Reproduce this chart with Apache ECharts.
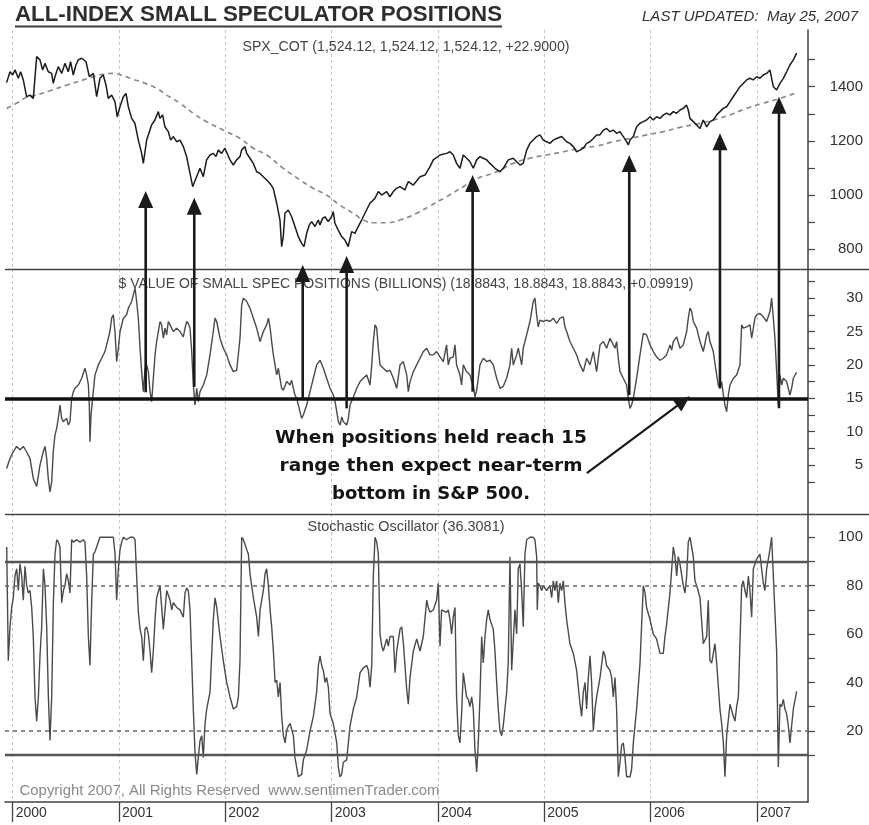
<!DOCTYPE html>
<html><head><meta charset="utf-8">
<script src="https://cdn.jsdelivr.net/npm/echarts@6/dist/echarts.min.js"></script>
<style>html,body{margin:0;padding:0;background:#fff}#c{width:869px;height:825px}</style>
</head><body><div id="c"></div>
<script>
// ---------- DATA (x = decimal year, y = value) ----------
const spx = [
[1999.943,1415],[1999.975,1455],[2000.000,1443],[2000.022,1462],[2000.053,1431],[2000.075,1455],[2000.100,1425],[2000.131,1363],[2000.163,1369],[2000.194,1357],
[2000.226,1511],[2000.257,1499],[2000.282,1462],[2000.304,1486],[2000.335,1455],[2000.367,1449],[2000.382,1412],[2000.398,1437],[2000.429,1474],[2000.461,1449],
[2000.492,1486],[2000.523,1455],[2000.545,1492],[2000.570,1443],[2000.595,1480],[2000.617,1499],[2000.649,1505],[2000.665,1511],[2000.690,1492],[2000.721,1437],
[2000.759,1449],[2000.790,1363],[2000.821,1431],[2000.852,1443],[2000.878,1406],[2000.899,1357],[2000.931,1369],[2000.962,1345],[2000.984,1289],[2001.009,1326],
[2001.041,1363],[2001.066,1375],[2001.088,1326],[2001.119,1283],[2001.150,1265],[2001.182,1203],[2001.213,1154],[2001.229,1117],[2001.260,1203],[2001.307,1259],
[2001.338,1277],[2001.370,1308],[2001.385,1283],[2001.410,1296],[2001.432,1252],[2001.464,1234],[2001.486,1203],[2001.511,1216],[2001.542,1197],[2001.574,1203],
[2001.605,1179],[2001.636,1142],[2001.668,1080],[2001.693,1031],[2001.730,1068],[2001.762,1099],[2001.793,1068],[2001.824,1130],[2001.856,1148],[2001.887,1154],
[2001.912,1142],[2001.934,1166],[2001.965,1154],[2001.996,1173],[2002.044,1130],[2002.075,1111],[2002.106,1130],[2002.138,1142],[2002.153,1166],[2002.185,1179],
[2002.201,1154],[2002.232,1136],[2002.263,1117],[2002.295,1086],[2002.326,1080],[2002.357,1068],[2002.389,1056],[2002.420,1043],[2002.451,1025],[2002.483,970],
[2002.514,908],[2002.530,810],[2002.545,847],[2002.561,933],[2002.592,945],[2002.624,920],[2002.655,884],[2002.686,847],[2002.718,822],[2002.740,810],
[2002.765,859],[2002.790,890],[2002.812,902],[2002.843,884],[2002.874,908],[2002.890,890],[2002.915,914],[2002.937,920],[2002.968,902],[2002.999,920],
[2003.015,939],[2003.031,896],[2003.062,871],[2003.094,847],[2003.125,834],[2003.156,810],[2003.188,865],[2003.219,859],[2003.250,884],[2003.282,908],
[2003.313,933],[2003.360,970],[2003.407,988],[2003.439,1013],[2003.470,1000],[2003.517,1013],[2003.548,994],[2003.580,1013],[2003.611,1025],[2003.642,1031],
[2003.689,1019],[2003.721,1050],[2003.768,1037],[2003.831,1068],[2003.878,1074],[2003.925,1105],[2003.956,1130],
[2004.019,1148],[2004.081,1154],[2004.113,1160],[2004.144,1148],[2004.175,1117],[2004.207,1099],[2004.238,1148],[2004.270,1136],[2004.301,1123],[2004.332,1099],
[2004.364,1130],[2004.395,1142],[2004.426,1136],[2004.458,1130],[2004.489,1117],[2004.536,1099],[2004.583,1086],[2004.614,1099],[2004.661,1130],[2004.708,1136],
[2004.740,1123],[2004.771,1111],[2004.802,1117],[2004.834,1166],[2004.865,1191],[2004.896,1203],[2004.928,1216],[2004.959,1222],[2004.990,1203],[2005.022,1197],
[2005.053,1191],[2005.085,1203],[2005.116,1209],[2005.163,1216],[2005.179,1222],[2005.210,1197],[2005.241,1191],[2005.273,1179],[2005.304,1160],[2005.335,1166],
[2005.367,1173],[2005.398,1191],[2005.429,1197],[2005.461,1209],[2005.492,1222],[2005.523,1222],[2005.555,1240],[2005.586,1246],[2005.617,1234],[2005.649,1240],
[2005.680,1228],[2005.711,1234],[2005.743,1216],[2005.774,1197],[2005.790,1185],[2005.806,1203],[2005.837,1216],[2005.868,1252],[2005.900,1265],[2005.931,1271],
[2005.962,1277],[2005.994,1289],[2006.025,1277],[2006.056,1289],[2006.088,1283],[2006.119,1296],[2006.150,1302],[2006.182,1296],[2006.213,1308],[2006.244,1302],
[2006.276,1314],[2006.307,1320],[2006.338,1332],[2006.354,1314],[2006.370,1283],[2006.401,1271],[2006.432,1259],[2006.464,1246],[2006.495,1277],[2006.527,1252],
[2006.558,1271],[2006.589,1277],[2006.621,1296],[2006.652,1308],[2006.683,1320],[2006.715,1326],[2006.746,1345],[2006.777,1363],[2006.809,1382],[2006.840,1400],
[2006.871,1412],[2006.903,1425],[2006.934,1431],[2006.965,1425],[2006.997,1437],[2007.028,1431],[2007.059,1443],[2007.091,1449],[2007.122,1462],[2007.138,1431],
[2007.154,1400],[2007.185,1388],[2007.216,1412],[2007.248,1431],[2007.279,1455],[2007.310,1480],[2007.342,1499],[2007.373,1524]
];
const spxAvg = [
[1999.943,1320],[2000.037,1339],[2000.131,1361],[2000.194,1366],[2000.351,1385],[2000.508,1406],[2000.664,1425],[2000.758,1437],[2000.852,1446],[2000.946,1449],
[2001.041,1440],[2001.135,1427],[2001.229,1415],[2001.354,1394],[2001.448,1369],[2001.574,1339],[2001.699,1302],[2001.824,1271],[2002.012,1234],[2002.138,1209],
[2002.263,1173],[2002.389,1148],[2002.545,1099],[2002.702,1056],[2002.827,1025],[2002.953,1000],[2003.078,963],[2003.204,933],[2003.298,908],[2003.392,898],
[2003.517,898],[2003.642,908],[2003.799,933],[2003.925,960],[2004.081,994],[2004.238,1031],[2004.332,1056],[2004.552,1086],[2004.708,1117],[2004.865,1136],
[2005.022,1148],[2005.179,1160],[2005.335,1173],[2005.492,1181],[2005.649,1197],[2005.806,1209],[2005.962,1222],[2006.119,1234],[2006.276,1250],[2006.432,1262],
[2006.589,1277],[2006.746,1296],[2006.903,1320],[2007.059,1339],[2007.216,1357],[2007.373,1378]
];
const positions = [
[1999.943,4.5],[1999.975,6.0],[2000.006,7.0],[2000.037,7.8],[2000.069,7.3],[2000.100,7.8],[2000.131,7.0],[2000.163,6.0],[2000.194,3.0],[2000.226,1.8],
[2000.257,5.0],[2000.288,7.0],[2000.304,7.8],[2000.320,6.0],[2000.335,3.0],[2000.351,1.0],[2000.367,2.5],[2000.382,7.0],[2000.398,9.5],[2000.414,10.5],
[2000.429,12.0],[2000.445,14.0],[2000.461,12.0],[2000.476,11.5],[2000.508,12.0],[2000.524,11.0],[2000.539,11.5],[2000.555,15.0],[2000.571,16.0],[2000.586,16.5],
[2000.618,17.0],[2000.649,18.0],[2000.680,19.5],[2000.696,18.5],[2000.712,17.0],[2000.721,14.0],[2000.727,8.5],[2000.737,12.5],[2000.752,15.0],[2000.774,18.5],
[2000.806,20.0],[2000.837,21.0],[2000.868,22.0],[2000.884,23.0],[2000.915,25.0],[2000.931,27.0],[2000.947,27.5],[2000.962,25.0],[2000.978,20.5],[2000.994,22.5],
[2001.010,25.0],[2001.041,27.0],[2001.072,27.5],[2001.088,28.5],[2001.104,29.0],[2001.119,29.5],[2001.135,30.5],[2001.151,31.5],[2001.166,29.5],[2001.182,27.0],
[2001.198,22.5],[2001.213,19.0],[2001.229,16.0],[2001.245,19.5],[2001.261,20.0],[2001.276,19.0],[2001.292,16.0],[2001.307,14.5],[2001.323,18.0],[2001.339,21.5],
[2001.354,23.5],[2001.370,25.0],[2001.386,26.5],[2001.401,26.0],[2001.417,24.0],[2001.433,25.5],[2001.448,24.5],[2001.464,26.5],[2001.480,26.0],[2001.511,25.0],
[2001.543,25.5],[2001.574,25.0],[2001.605,24.2],[2001.621,25.5],[2001.637,26.5],[2001.652,26.2],[2001.668,25.5],[2001.684,22.0],[2001.699,17.0],[2001.715,14.0],
[2001.731,16.5],[2001.746,14.5],[2001.762,16.0],[2001.793,17.0],[2001.825,18.5],[2001.856,21.5],[2001.887,25.0],[2001.903,27.0],[2001.919,26.5],[2001.950,24.0],
[2001.981,22.5],[2002.013,21.5],[2002.044,20.0],[2002.075,19.0],[2002.107,19.2],[2002.138,24.0],[2002.154,29.0],[2002.170,30.0],[2002.201,29.5],[2002.232,28.5],
[2002.264,27.0],[2002.295,25.5],[2002.326,23.5],[2002.358,25.0],[2002.389,26.0],[2002.405,27.0],[2002.420,25.7],[2002.436,23.5],[2002.452,21.5],[2002.467,20.0],
[2002.483,18.5],[2002.499,19.5],[2002.514,18.0],[2002.530,16.5],[2002.546,16.2],[2002.577,17.5],[2002.608,17.0],[2002.624,17.7],[2002.640,16.5],[2002.655,15.5],
[2002.671,15.0],[2002.687,14.0],[2002.718,12.0],[2002.734,12.5],[2002.765,14.0],[2002.797,16.0],[2002.828,18.0],[2002.859,20.0],[2002.891,20.7],[2002.922,19.5],
[2002.953,18.0],[2002.985,16.5],[2003.000,16.0],[2003.016,15.5],[2003.032,14.5],[2003.048,13.0],[2003.063,11.5],[2003.079,11.0],[2003.095,12.2],[2003.110,11.5],
[2003.142,11.0],[2003.157,12.0],[2003.173,14.0],[2003.204,15.2],[2003.236,16.5],[2003.267,17.5],[2003.298,18.0],[2003.330,18.5],[2003.361,17.0],[2003.377,20.0],
[2003.392,23.5],[2003.408,26.0],[2003.424,25.5],[2003.439,22.5],[2003.455,20.0],[2003.486,19.5],[2003.518,19.0],[2003.549,19.2],[2003.580,18.0],[2003.612,16.5],
[2003.643,20.0],[2003.674,20.5],[2003.706,18.5],[2003.721,16.0],[2003.737,17.5],[2003.768,19.0],[2003.800,20.0],[2003.831,21.0],[2003.862,22.0],[2003.894,22.5],
[2003.925,21.5],[2003.956,21.5],[2003.987,22.0],[2004.019,21.2],[2004.050,20.5],[2004.081,23.0],[2004.097,20.0],[2004.113,21.0],[2004.144,21.2],[2004.160,23.0],
[2004.175,20.0],[2004.207,18.5],[2004.222,17.0],[2004.238,20.0],[2004.269,19.0],[2004.301,18.5],[2004.317,17.5],[2004.332,17.0],[2004.348,15.2],[2004.364,16.2],
[2004.379,18.0],[2004.395,20.0],[2004.426,21.0],[2004.458,20.5],[2004.489,20.7],[2004.520,20.0],[2004.552,18.0],[2004.583,16.5],[2004.614,16.8],[2004.646,18.0],
[2004.677,20.0],[2004.693,22.5],[2004.708,20.0],[2004.740,21.5],[2004.755,22.5],[2004.787,20.0],[2004.802,22.5],[2004.834,24.5],[2004.865,26.5],[2004.881,28.0],
[2004.896,29.5],[2004.912,30.0],[2004.928,27.5],[2004.943,25.7],[2004.959,26.7],[2004.990,26.5],[2005.022,26.7],[2005.053,26.5],[2005.085,27.0],[2005.116,26.2],
[2005.147,27.0],[2005.179,27.2],[2005.194,25.7],[2005.210,25.0],[2005.241,23.5],[2005.273,22.5],[2005.304,21.5],[2005.336,20.0],[2005.367,19.0],[2005.398,21.0],
[2005.430,20.0],[2005.461,22.0],[2005.492,19.0],[2005.524,23.0],[2005.555,23.5],[2005.586,22.5],[2005.618,24.0],[2005.649,23.0],[2005.665,22.5],[2005.680,23.5],
[2005.696,21.0],[2005.712,19.0],[2005.743,18.0],[2005.774,17.0],[2005.790,15.0],[2005.806,13.5],[2005.821,14.0],[2005.837,15.0],[2005.868,18.0],[2005.900,21.5],
[2005.931,24.7],[2005.962,24.5],[2005.994,23.0],[2006.025,22.0],[2006.056,21.2],[2006.088,20.7],[2006.119,21.0],[2006.150,21.5],[2006.182,23.0],[2006.198,22.2],
[2006.213,23.5],[2006.245,24.2],[2006.276,22.5],[2006.307,23.0],[2006.339,25.0],[2006.354,27.0],[2006.370,28.5],[2006.386,28.0],[2006.401,26.5],[2006.433,25.5],
[2006.464,23.5],[2006.495,22.0],[2006.527,24.5],[2006.542,25.0],[2006.558,23.5],[2006.589,22.0],[2006.621,18.5],[2006.636,17.0],[2006.652,16.5],[2006.668,17.5],
[2006.684,15.5],[2006.699,14.0],[2006.715,13.0],[2006.731,15.5],[2006.746,17.0],[2006.778,18.0],[2006.809,18.5],[2006.840,20.0],[2006.856,26.0],[2006.872,25.5],
[2006.903,25.7],[2006.934,26.0],[2006.950,24.0],[2006.966,25.5],[2006.981,27.0],[2006.997,27.5],[2007.028,27.7],[2007.060,27.2],[2007.091,26.5],[2007.122,28.0],
[2007.138,30.0],[2007.154,27.0],[2007.169,24.0],[2007.185,19.0],[2007.201,14.0],[2007.216,18.5],[2007.232,17.0],[2007.248,18.0],[2007.279,17.5],[2007.310,15.5],
[2007.326,16.5],[2007.342,18.0],[2007.373,18.9]
];
const stochastic = [
[1999.944,96],[1999.959,49],[1999.975,63],[1999.991,71],[2000.006,75],[2000.022,84],[2000.038,87],[2000.053,78],[2000.069,89],[2000.085,84],
[2000.100,74],[2000.116,88],[2000.132,80],[2000.147,77],[2000.163,78],[2000.179,71],[2000.194,59],[2000.210,34],[2000.226,24],[2000.242,34],
[2000.257,51],[2000.273,63],[2000.289,87],[2000.304,80],[2000.320,63],[2000.336,34],[2000.351,16],[2000.367,34],[2000.383,73],[2000.398,93],
[2000.414,99],[2000.430,98],[2000.445,96],[2000.461,73],[2000.477,78],[2000.492,80],[2000.508,85],[2000.524,82],[2000.539,77],[2000.555,99],
[2000.571,98],[2000.602,99],[2000.633,98],[2000.665,99],[2000.680,98],[2000.696,84],[2000.712,59],[2000.727,47],[2000.743,73],[2000.759,93],
[2000.774,94],[2000.790,96],[2000.821,100],[2000.853,100],[2000.884,100],[2000.916,100],[2000.947,100],[2000.963,93],[2000.978,74],[2000.994,87],
[2001.010,95],[2001.025,98],[2001.041,100],[2001.072,99],[2001.104,100],[2001.135,100],[2001.151,99],[2001.166,84],[2001.182,69],[2001.198,62],
[2001.213,59],[2001.229,49],[2001.245,62],[2001.260,63],[2001.276,60],[2001.292,53],[2001.307,44],[2001.323,53],[2001.339,66],[2001.354,75],
[2001.386,80],[2001.417,62],[2001.433,70],[2001.449,78],[2001.480,74],[2001.496,70],[2001.511,73],[2001.543,71],[2001.574,70],[2001.605,67],
[2001.621,77],[2001.637,79],[2001.652,78],[2001.668,70],[2001.684,49],[2001.699,29],[2001.715,11],[2001.731,2],[2001.746,9],[2001.762,16],
[2001.778,18],[2001.793,9],[2001.809,23],[2001.825,29],[2001.856,36],[2001.887,66],[2001.903,75],[2001.919,71],[2001.950,59],[2001.981,49],
[2002.013,40],[2002.044,34],[2002.076,29],[2002.107,30],[2002.123,34],[2002.138,49],[2002.154,100],[2002.170,99],[2002.201,95],[2002.217,93],
[2002.232,85],[2002.264,75],[2002.295,67],[2002.311,59],[2002.327,70],[2002.342,74],[2002.358,78],[2002.374,85],[2002.389,87],[2002.405,80],
[2002.421,70],[2002.436,63],[2002.452,53],[2002.468,40],[2002.483,41],[2002.499,34],[2002.515,40],[2002.530,26],[2002.546,18],[2002.562,15],
[2002.577,20],[2002.593,22],[2002.609,23],[2002.624,23],[2002.640,18],[2002.655,9],[2002.671,5],[2002.687,1],[2002.703,1],[2002.718,2],
[2002.734,8],[2002.765,12],[2002.797,20],[2002.828,26],[2002.859,36],[2002.875,47],[2002.891,51],[2002.906,47],[2002.922,45],[2002.938,40],
[2002.953,42],[2002.969,38],[2002.985,27],[2003.016,23],[2003.048,15],[2003.063,5],[2003.079,1],[2003.094,2],[2003.110,7],[2003.141,8],
[2003.157,15],[2003.173,22],[2003.204,29],[2003.236,34],[2003.267,44],[2003.298,46],[2003.330,47],[2003.345,45],[2003.361,38],[2003.377,47],
[2003.392,84],[2003.408,100],[2003.424,98],[2003.439,93],[2003.455,60],[2003.471,55],[2003.486,53],[2003.518,58],[2003.533,55],[2003.549,59],
[2003.580,59],[2003.596,44],[2003.612,53],[2003.643,62],[2003.659,63],[2003.675,56],[2003.706,37],[2003.721,31],[2003.737,42],[2003.768,53],
[2003.800,58],[2003.815,58],[2003.831,53],[2003.862,59],[2003.894,74],[2003.909,71],[2003.925,69],[2003.956,70],[2003.987,74],[2004.003,81],
[2004.019,55],[2004.034,70],[2004.050,70],[2004.081,69],[2004.097,70],[2004.113,66],[2004.128,60],[2004.144,67],[2004.160,71],[2004.175,34],
[2004.191,18],[2004.207,15],[2004.222,27],[2004.238,44],[2004.254,44],[2004.269,34],[2004.285,33],[2004.301,30],[2004.317,34],[2004.332,29],
[2004.348,12],[2004.364,3],[2004.379,15],[2004.395,34],[2004.411,59],[2004.426,48],[2004.442,59],[2004.458,66],[2004.473,70],[2004.489,66],
[2004.505,64],[2004.520,62],[2004.536,53],[2004.552,40],[2004.567,29],[2004.583,20],[2004.599,18],[2004.614,22],[2004.630,29],[2004.646,36],
[2004.661,48],[2004.677,92],[2004.693,45],[2004.708,45],[2004.724,70],[2004.740,60],[2004.755,87],[2004.771,89],[2004.787,78],[2004.802,63],
[2004.818,93],[2004.834,99],[2004.865,100],[2004.896,100],[2004.912,99],[2004.928,92],[2004.934,70],[2004.943,81],[2004.959,80],[2004.975,78],
[2004.990,80],[2005.022,78],[2005.053,80],[2005.069,75],[2005.085,82],[2005.100,78],[2005.116,82],[2005.132,73],[2005.147,81],[2005.163,78],
[2005.179,82],[2005.194,73],[2005.210,66],[2005.241,56],[2005.273,52],[2005.304,45],[2005.336,31],[2005.351,26],[2005.367,36],[2005.383,40],
[2005.398,29],[2005.414,42],[2005.430,51],[2005.445,40],[2005.461,20],[2005.477,29],[2005.492,34],[2005.524,42],[2005.555,53],[2005.571,51],
[2005.586,47],[2005.618,45],[2005.633,42],[2005.649,34],[2005.665,42],[2005.680,29],[2005.696,1],[2005.712,7],[2005.727,14],[2005.743,15],
[2005.759,9],[2005.774,1],[2005.806,1],[2005.821,4],[2005.837,15],[2005.868,29],[2005.900,48],[2005.931,80],[2005.947,77],[2005.962,71],
[2005.994,66],[2006.025,60],[2006.056,58],[2006.088,52],[2006.119,52],[2006.135,59],[2006.150,64],[2006.182,77],[2006.213,96],[2006.229,92],
[2006.245,84],[2006.260,92],[2006.276,89],[2006.307,80],[2006.323,77],[2006.339,84],[2006.354,98],[2006.370,100],[2006.386,96],[2006.401,92],
[2006.417,82],[2006.433,80],[2006.464,75],[2006.495,56],[2006.527,59],[2006.542,74],[2006.558,49],[2006.574,48],[2006.605,56],[2006.621,48],
[2006.652,29],[2006.668,23],[2006.684,15],[2006.699,1],[2006.715,18],[2006.746,31],[2006.778,26],[2006.793,24],[2006.809,30],[2006.825,34],
[2006.840,34],[2006.856,80],[2006.872,82],[2006.887,78],[2006.903,75],[2006.919,84],[2006.934,78],[2006.950,67],[2006.966,87],[2006.997,91],
[2007.028,93],[2007.060,81],[2007.075,78],[2007.091,87],[2007.107,91],[2007.122,95],[2007.138,100],[2007.154,84],[2007.185,53],[2007.201,5],
[2007.216,31],[2007.232,30],[2007.248,33],[2007.263,29],[2007.279,27],[2007.295,22],[2007.310,15],[2007.326,22],[2007.342,29],[2007.373,36.3]
];
// arrows: year, start value on the positions panel, tip value on the SPX panel
const arrowYears = [2001.251, 2001.708, 2002.728, 2003.141, 2004.326, 2005.799, 2006.652, 2007.207];
const arrowFrom  = [15.9, 16.7, 15.0, 13.5, 16.0, 15.5, 16.5, 13.5];
const arrowTo    = [1015, 990, 742, 775, 1074, 1148, 1228, 1363];
const noteArrowFrom = [2005.400, 3.8];
const noteArrowTo   = [2006.370, 15.3];

const yearTicks   = [2000, 2001, 2002, 2003, 2004, 2005, 2006, 2007];
const spxTicks    = [800, 900, 1000, 1100, 1200, 1300, 1400, 1500];
const spxLabels   = [800, 1000, 1200, 1400];
const posTicks    = [2.5, 5, 7.5, 10, 12.5, 15, 17.5, 20, 22.5, 25, 27.5, 30, 32.5];
const posLabels   = [5, 10, 15, 20, 25, 30];
const stochTicks  = [10, 20, 30, 40, 50, 60, 70, 80, 90, 100];
const stochLabels = [20, 40, 60, 80, 100];
const posThreshold = 15;
const stochSolid  = [90, 10];
const stochDashed = [80, 20];

const titleText   = 'ALL-INDEX SMALL SPECULATOR POSITIONS';
const updatedText = 'LAST UPDATED:  May 25, 2007';
const spxLabel    = 'SPX_COT (1,524.12, 1,524.12, 1,524.12, +22.9000)';
const posLabel    = '$ VALUE OF SMALL SPEC POSITIONS (BILLIONS) (18.8843, 18.8843, 18.8843, +0.09919)';
const stochLabel  = 'Stochastic Oscillator (36.3081)';
const noteLines   = ['When positions held reach 15', 'range then expect near-term', 'bottom in S&P 500.'];
const copyright   = 'Copyright 2007, All Rights Reserved  www.sentimenTrader.com';

// ---------- CHART ----------
const FONT = 'Liberation Sans';
const chart = echarts.init(document.getElementById('c'), null, {renderer: 'canvas'});
const xMin = 1999.928, xMax = 2007.480;
const grids = [
  {left: 5, right: 61, top: 30, height: 239},
  {left: 5, right: 61, top: 269, height: 245},
  {left: 5, right: 61, top: 514, height: 288}
].map(g => Object.assign(g, {containLabel: false, outerBoundsMode: 'none', show: false}));
const fmt = v => String(Math.round(v));
function xAxis(i) {
  const last = i === 2;
  return {
    type: 'value', gridIndex: i, min: xMin, max: xMax,
    axisLine: {show: last, onZero: false, lineStyle: {color: '#444', width: 1.5}},
    axisTick: {show: last, customValues: yearTicks, length: 20, lineStyle: {color: '#444', width: 1.3}},
    axisLabel: {show: last, customValues: yearTicks, formatter: fmt, align: 'left', margin: 4,
                padding: [0, 0, 0, 3], fontSize: 14, color: '#333', fontFamily: FONT},
    splitLine: {show: true, lineStyle: {type: [3, 3], color: '#c6c6c6', width: 1}}
  };
}
function yAxis(i, min, max, ticks, labels) {
  return {
    type: 'value', gridIndex: i, position: 'right', min, max,
    axisLine: {show: true, onZero: false, lineStyle: {color: '#444', width: 1.5}},
    axisTick: {show: true, inside: false, length: 7, customValues: ticks, lineStyle: {color: '#444', width: 1.2}},
    axisLabel: {customValues: labels, formatter: v => String(v), align: 'right', margin: 55,
                fontSize: 15, color: '#333', fontFamily: FONT},
    splitLine: {show: false}
  };
}
const baseLine = {type: 'line', showSymbol: false, symbol: 'none', silent: true, animation: false};
chart.setOption({
  animation: false,
  textStyle: {fontFamily: FONT},
  grid: grids,
  xAxis: [xAxis(0), xAxis(1), xAxis(2)],
  yAxis: [
    yAxis(0, 727.3, 1609.2, spxTicks, spxLabels),
    yAxis(1, -2.32, 34.36, posTicks, posLabels),
    yAxis(2, -9.43, 109.63, stochTicks, stochLabels)
  ],
  series: [
    Object.assign({}, baseLine, {name: 'SPX avg', xAxisIndex: 0, yAxisIndex: 0, data: spxAvg, smooth: true,
      lineStyle: {color: '#8a8a8a', width: 1.7, type: [5, 4]}, z: 2}),
    Object.assign({}, baseLine, {name: 'SPX_COT', xAxisIndex: 0, yAxisIndex: 0, data: spx,
      lineStyle: {color: '#1c1c1c', width: 1.5}, z: 3}),
    Object.assign({}, baseLine, {name: 'Positions', xAxisIndex: 1, yAxisIndex: 1, data: positions,
      lineStyle: {color: '#4a4a4a', width: 1.4}, z: 3,
      markLine: {silent: true, symbol: 'none', label: {show: false}, animation: false,
        lineStyle: {color: '#111', width: 3.5, type: 'solid'}, data: [{yAxis: posThreshold}]}}),
    Object.assign({}, baseLine, {name: 'Stochastic', xAxisIndex: 2, yAxisIndex: 2, data: stochastic,
      lineStyle: {color: '#4a4a4a', width: 1.4}, z: 3,
      markLine: {silent: true, symbol: 'none', label: {show: false}, animation: false,
        data: stochSolid.map(v => ({yAxis: v, lineStyle: {color: '#555', width: 2.4, type: 'solid'}}))
          .concat(stochDashed.map(v => ({yAxis: v, lineStyle: {color: '#666', width: 1.5, type: [4, 4]}})))}})
  ]
});

// ---------- ANNOTATIONS ----------
const mctx = document.createElement('canvas').getContext('2d');
function fitText(text, font, x, y, width, align, fill) {
  mctx.font = font;
  const s = width / mctx.measureText(text).width;
  return {type: 'text', x, y, scaleX: s, z: 100,
    style: {text, font, fill, textAlign: align, textVerticalAlign: 'middle'}};
}
const g = [];
g.push(fitText(titleText, 'bold 22px "Liberation Sans"', 15, 15, 487, 'left', '#2e2e2e'));
g.push({type: 'line', z: 100, shape: {x1: 15, y1: 26.5, x2: 502, y2: 26.5}, style: {stroke: '#3a3a3a', lineWidth: 2}});
g.push(fitText(updatedText, 'italic 15px "Liberation Sans"', 642, 17, 216, 'left', '#333'));
g.push(fitText(spxLabel, '14px "Liberation Sans"', 406, 47, 327, 'center', '#444'));
g.push(fitText(posLabel, '14px "Liberation Sans"', 406, 284, 575, 'center', '#444'));
g.push(fitText(stochLabel, '14px "Liberation Sans"', 406, 527.5, 197, 'center', '#444'));
g.push(fitText(copyright, '14px "Liberation Sans"', 19.5, 791, 420, 'left', '#8a8a8a'));
const noteY = [438, 466.5, 494.3], noteW = [312, 303, 198];
noteLines.forEach((t, i) => g.push(fitText(t, 'bold 18px "DejaVu Sans"', 431, noteY[i], noteW[i], 'center', '#141414')));
// panel separators
[269.5, 514.5].forEach(y => g.push({type: 'line', z: 90, shape: {x1: 5, y1: y, x2: 869, y2: y}, style: {stroke: '#444', lineWidth: 1.5}}));
// vertical arrows
const INK = '#1a1a1a';
arrowYears.forEach((yv, i) => {
  const b = chart.convertToPixel({gridIndex: 1}, [yv, arrowFrom[i]]);
  const t = chart.convertToPixel({gridIndex: 0}, [yv, arrowTo[i]]);
  g.push({type: 'line', z: 110, shape: {x1: t[0], y1: b[1], x2: t[0], y2: t[1] + 14}, style: {stroke: INK, lineWidth: 2.6}});
  g.push({type: 'polygon', z: 110, shape: {points: [[t[0], t[1]], [t[0] - 7.5, t[1] + 17], [t[0] + 7.5, t[1] + 17]]}, style: {fill: INK}});
});
// diagonal note arrow
(function () {
  const a = chart.convertToPixel({gridIndex: 1}, noteArrowFrom);
  const b = chart.convertToPixel({gridIndex: 1}, noteArrowTo);
  const dx = b[0] - a[0], dy = b[1] - a[1], L = Math.hypot(dx, dy), ux = dx / L, uy = dy / L;
  const hl = 16, hw = 7;
  const bx = b[0] - ux * hl, by = b[1] - uy * hl;
  g.push({type: 'line', z: 110, shape: {x1: a[0], y1: a[1], x2: bx + ux * 2, y2: by + uy * 2}, style: {stroke: INK, lineWidth: 2.2}});
  g.push({type: 'polygon', z: 110, shape: {points: [[b[0], b[1]], [bx - uy * hw, by + ux * hw], [bx + uy * hw, by - ux * hw]]}, style: {fill: INK}});
})();
chart.setOption({graphic: g});
</script>
</body></html>
